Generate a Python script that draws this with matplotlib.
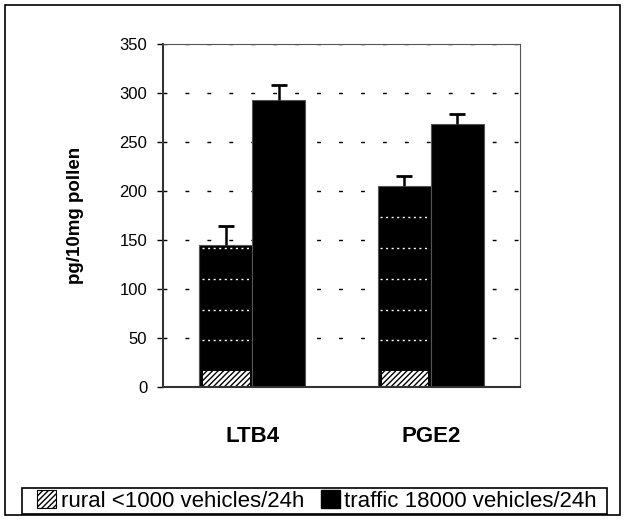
import numpy as np
import matplotlib
matplotlib.use('Agg')
import matplotlib.pyplot as plt
from matplotlib.patches import Patch, Rectangle

plt.rcParams['font.family'] = ['Liberation Sans', 'DejaVu Sans']
plt.rcParams['hatch.linewidth'] = 1.0

# data
groups = ['LTB4', 'PGE2']
rural = [145, 205]
rural_err = [19, 10]
traffic = [293, 268]
traffic_err = [15, 11]
rural_hatch = [16, 16]      # hatched base of the rural bars
labels = ['rural <1000 vehicles/24h', 'traffic 18000 vehicles/24h']

fig = plt.figure(figsize=(6.25, 5.2), dpi=100)
ax = fig.add_axes([163 / 625, 1 - 387 / 520, 357 / 625, 343 / 520])

x = np.arange(len(groups))
w = 0.297

# gridlines behind the bars
for v in range(50, 351, 50):
    ax.axhline(v, color='black', lw=1, dashes=(2.8, 13), zorder=0)

ax.bar(x - w / 2, rural, w, color='black', edgecolor='#555555', lw=0.8, zorder=2)
ax.bar(x + w / 2, traffic, w, color='black', edgecolor='#555555', lw=0.8, zorder=2)

# hatched base and dotted pattern inside the rural bars
ax.bar(x - w / 2 + 0.004, rural_hatch, w * 0.88, color='white', hatch='//////',
       edgecolor='black', lw=0, zorder=3)
for i in range(len(groups)):
    for v in np.arange(rural_hatch[i] + 31.5, rural[i], 31.5):
        ax.plot([x[i] - w + 0.015, x[i] - 0.01], [v, v], color='white', lw=1,
                dashes=(1.5, 2.5), zorder=3)

# only the upper half of each error bar
for xs, ys, es in [(x - w / 2, rural, rural_err), (x + w / 2, traffic, traffic_err)]:
    eb = ax.errorbar(xs, ys, yerr=[[0, 0], es], fmt='none', ecolor='black',
                     elinewidth=1.8, capsize=5.8, capthick=2, zorder=4)
    eb[1][0].set_visible(False)

ax.set_xlim(-0.5, 1.5)
ax.set_ylim(0, 350)
ax.set_yticks(range(0, 351, 50))
ax.set_xticks(x)
ax.set_xticklabels(groups, fontsize=16, fontweight='bold')
ax.tick_params(axis='x', length=0, pad=28)
ax.tick_params(axis='y', length=4.3, width=1, direction='out', labelsize=12, pad=7)

for s in ['left', 'bottom']:
    ax.spines[s].set_linewidth(1.5)
    ax.spines[s].set_color('#333333')
for s in ['top', 'right']:
    ax.spines[s].set_linewidth(0.8)
    ax.spines[s].set_color('#555555')
ax.spines['bottom'].set_zorder(5)

fig.text(75 / 625, 1 - 215 / 520, 'pg/10mg pollen', rotation=90, ha='center',
         va='center', fontsize=13.5, fontweight='bold')

# outer frame and legend box
fig.patches.append(Rectangle((5 / 625, 5 / 520), 615 / 625, 510 / 520,
                             transform=fig.transFigure, fill=False,
                             edgecolor='black', lw=1.2))
fig.patches.append(Rectangle((22 / 625, 6 / 520), 585 / 625, 26 / 520,
                             transform=fig.transFigure, fill=False,
                             edgecolor='black', lw=1.2))

handles = [Patch(facecolor='white', edgecolor='black', hatch='//////', lw=0.8),
           Patch(facecolor='black', edgecolor='black')]
leg = fig.legend(handles, labels, ncol=2, loc='center',
                 bbox_to_anchor=(317 / 625, 1 - 501 / 520),
                 borderaxespad=0, fontsize=16, frameon=False,
                 handlelength=0.85, handleheight=0.85, handletextpad=0.2,
                 borderpad=0, columnspacing=0.75)

fig.savefig('out.png', dpi=100)
